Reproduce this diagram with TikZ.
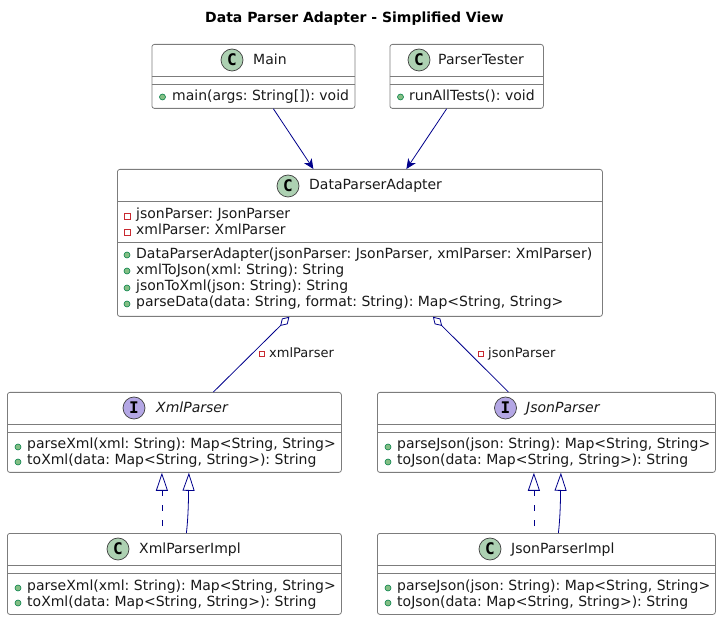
\documentclass[tikz,border=0pt]{standalone}
\usepackage{fontspec}
\setmainfont{DejaVu Sans}
\newfontfamily\iconfont{DejaVu Sans Mono}
\usetikzlibrary{arrows.meta}
\definecolor{boxline}{HTML}{7C7C7C}
\definecolor{linkblue}{HTML}{00008B}
\definecolor{classgreen}{HTML}{ADD1B2}
\definecolor{ifacepurple}{HTML}{B4A7E5}
\definecolor{pubgreen}{HTML}{84BE84}
\definecolor{pubedge}{HTML}{038048}
\definecolor{privred}{HTML}{C82930}
\tikzset{
	classbox/.style={draw=boxline, line width=0.8pt, rounded corners=2.5pt, anchor=north west, inner sep=0pt},
	sepline/.style={draw=boxline, line width=0.8pt},
	member/.style={black!90, anchor=base west, inner sep=0pt, font=\fontsize{14}{16}\selectfont\frenchspacing},
	classname/.style={member, font=\fontsize{14}{16}\selectfont},
	ifacename/.style={member, font=\fontsize{14}{16}\selectfont\itshape},
	classicon/.style={circle, draw=black!75, line width=0.7pt, fill=classgreen, minimum size=22pt, inner sep=0pt, font=\iconfont\bfseries\fontsize{16}{16}\selectfont},
	ifaceicon/.style={classicon, fill=ifacepurple},
	pubdot/.style={draw=pubedge, fill=pubgreen, line width=0.6pt},
	privmark/.style={draw=privred, line width=0.7pt},
	uses/.style={draw=linkblue, line width=0.8pt, -{Stealth[length=10pt,width=9pt,inset=3pt]}},
	holds/.style={draw=linkblue, line width=0.8pt, {Diamond[open,length=13pt,width=8pt]}-},
	realizes/.style={draw=linkblue, line width=0.8pt, -{Triangle[open,length=18pt,width=12pt]}},
	realdash/.style={realizes, dash pattern=on 6pt off 9pt, dash phase=8pt},
}
\begin{document}
\begin{tikzpicture}[x=1pt, y=1pt]
	\useasboundingbox (0,0) rectangle (721,-620);
	\node[black, font=\bfseries\fontsize{14}{16}\selectfont] (title) at (354.5,-19) {Data Parser Adapter - Simplified View};

	% boxes
	\node[classbox, minimum width=203pt, minimum height=64pt] (main) at (151.5,-44) {};
	\node[classbox, minimum width=153.5pt, minimum height=64pt] (tester) at (389.5,-44) {};
	\node[classbox, minimum width=485pt, minimum height=147pt] (adapter) at (117,-169) {};
	\node[classbox, minimum width=334pt, minimum height=80pt] (xmlparser) at (7,-392) {};
	\node[classbox, minimum width=338pt, minimum height=80pt] (jsonparser) at (377,-392) {};
	\node[classbox, minimum width=334pt, minimum height=81pt] (xmlimpl) at (7,-533) {};
	\node[classbox, minimum width=338pt, minimum height=81pt] (jsonimpl) at (377,-533) {};

	% separators
	\draw[sepline] (151.5,-76.5) -- (354.5,-76.5);
	\draw[sepline] (151.5,-84.5) -- (354.5,-84.5);
	\draw[sepline] (389.5,-76.5) -- (543,-76.5);
	\draw[sepline] (389.5,-84.5) -- (543,-84.5);
	\draw[sepline] (117,-201.5) -- (602,-201.5);
	\draw[sepline] (117,-242.5) -- (602,-242.5);
	\draw[sepline] (7,-424.5) -- (341,-424.5);
	\draw[sepline] (7,-432.5) -- (341,-432.5);
	\draw[sepline] (377,-424.5) -- (715,-424.5);
	\draw[sepline] (377,-432.5) -- (715,-432.5);
	\draw[sepline] (7,-565.5) -- (341,-565.5);
	\draw[sepline] (7,-573.5) -- (341,-573.5);
	\draw[sepline] (377,-565.5) -- (715,-565.5);
	\draw[sepline] (377,-573.5) -- (715,-573.5);

	% headers
	\node[classicon] (mainicon) at (232,-60) {C};
	\node[classname] (mainname) at (253,-65) {Main};
	\node[classicon] (testericon) at (419,-60) {C};
	\node[classname] (testername) at (438,-65) {ParserTester};
	\node[classicon] (adaptericon) at (288,-186) {C};
	\node[classname] (adaptername) at (309,-190) {DataParserAdapter};
	\node[ifaceicon] (xmlicon) at (134,-408) {I};
	\node[ifacename] (xmlname) at (156,-413) {XmlParser};
	\node[ifaceicon] (jsonicon) at (505.5,-408) {I};
	\node[ifacename] (jsonname) at (526,-413) {JsonParser};
	\node[classicon] (ximplicon) at (118,-549) {C};
	\node[classname] (ximplname) at (139,-554) {XmlParserImpl};
	\node[classicon] (jimplicon) at (490,-549) {C};
	\node[classname] (jimplname) at (511,-554) {JsonParserImpl};

	% members
	\draw[pubdot] (162.5,-97) circle (3);
	\node[member] (mainrun) at (172,-101) {main(args: String[]): void};
	\draw[pubdot] (400.5,-97) circle (3);
	\node[member] (testerrun) at (409,-101) {runAllTests(): void};

	\draw[privmark] (124,-213) rectangle (130,-219);
	\node[member] (attrjson) at (136,-219) {jsonParser: JsonParser};
	\draw[privmark] (124,-229) rectangle (130,-235);
	\node[member] (attrxml) at (136,-235) {xmlParser: XmlParser};
	\draw[pubdot] (127,-255) circle (3);
	\node[member] (opctor) at (136,-259) {DataParserAdapter(jsonParser: JsonParser, xmlParser: XmlParser)};
	\draw[pubdot] (127,-271) circle (3);
	\node[member] (opxml) at (136,-275) {xmlToJson(xml: String): String};
	\draw[pubdot] (127,-288) circle (3);
	\node[member] (opjson) at (136,-291) {jsonToXml(json: String): String};
	\draw[pubdot] (127,-304) circle (3);
	\node[member] (opdata) at (136,-307) {parseData(data: String, format: String): Map<String, String>};

	\draw[pubdot] (18,-447) circle (3);
	\node[member] (xmlparse) at (27,-449) {parseXml(xml: String): Map<String, String>};
	\draw[pubdot] (18,-462) circle (3);
	\node[member] (xmlto) at (27,-465) {toXml(data: Map<String, String>): String};
	\draw[pubdot] (388,-447) circle (3);
	\node[member] (jsonparse) at (397,-449) {parseJson(json: String): Map<String, String>};
	\draw[pubdot] (388,-462) circle (3);
	\node[member] (jsonto) at (397,-465) {toJson(data: Map<String, String>): String};
	\draw[pubdot] (18,-588) circle (3);
	\node[member] (ximplparse) at (27,-590) {parseXml(xml: String): Map<String, String>};
	\draw[pubdot] (18,-603) circle (3);
	\node[member] (ximplto) at (27,-606) {toXml(data: Map<String, String>): String};
	\draw[pubdot] (388,-588) circle (3);
	\node[member] (jimplparse) at (397,-590) {parseJson(json: String): Map<String, String>};
	\draw[pubdot] (388,-603) circle (3);
	\node[member] (jimplto) at (397,-606) {toJson(data: Map<String, String>): String};

	% connectors
	\draw[uses] ([xshift=20pt]main.south) -- ([xshift=-46.5pt]adapter.north);
	\draw[uses] ([xshift=-20pt]tester.south) -- ([xshift=46.5pt]adapter.north);
	\draw[holds] ([xshift=-70.5pt]adapter.south) -- ([xshift=39pt]xmlparser.north);
	\draw[holds] ([xshift=73pt]adapter.south) -- ([xshift=-38pt]jsonparser.north);
	\draw[realdash] ([xshift=-12.5pt]xmlimpl.north) -- ([xshift=-12.5pt]xmlparser.south);
	\draw[realizes] ([xshift=12pt]xmlimpl.north) .. controls (188.5,-515) and (188.5,-495) .. ([xshift=14.5pt]xmlparser.south);
	\draw[realdash] ([xshift=-12.5pt]jsonimpl.north) -- ([xshift=-12.5pt]jsonparser.south);
	\draw[realizes] ([xshift=12pt]jsonimpl.north) .. controls (560.5,-515) and (560.5,-495) .. ([xshift=14.5pt]jsonparser.south);

	% link labels
	\draw[privmark] (259.5,-351.5) rectangle (264.5,-356.5);
	\node[member, font=\fontsize{13}{15}\selectfont\frenchspacing] (xmllabel) at (269,-358) {xmlParser};
	\draw[privmark] (478.5,-351.5) rectangle (483.5,-356.5);
	\node[member, font=\fontsize{13}{15}\selectfont\frenchspacing] (jsonlabel) at (488,-358) {jsonParser};
\end{tikzpicture}
\end{document}
